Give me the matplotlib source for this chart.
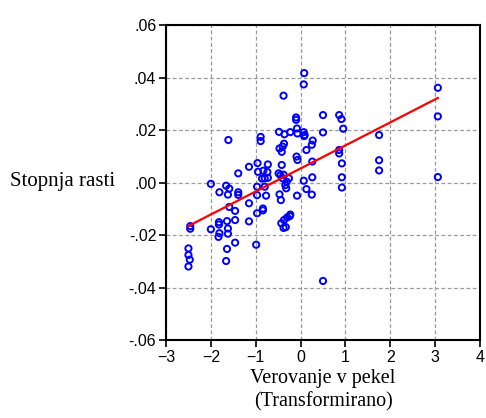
import numpy as np
import matplotlib
matplotlib.use("Agg")
import matplotlib.pyplot as plt

# Belief in hell (transformed) vs growth rate
verovanje = [
    0.08, 0.07, -0.38, 0.50, 0.86, 0.91, -0.10, -0.10, 0.95, 0.50,
    -0.48, -0.36, -0.23, -0.08, -0.07, 0.07, 0.09, 0.08, -0.89, -0.89,
    -1.61, 0.27, 0.25, 0.13, -0.37, -0.40, -0.47, -0.42, 0.86, 0.86,
    1.75, 3.06, 3.06, -0.09, -0.07,
    0.26, 0.92, 1.75, 1.75, 3.06, 0.92, 0.26, 0.07, -0.96, -0.73,
    -0.42, -1.15, -1.39, -0.83, -0.74, -0.95, -0.49, -0.45, -0.38, -0.26,
    -0.40, -0.80, -0.73, -0.86, 0.92,
    -2.00, -1.66, -1.59, -1.81, -1.62, -1.39, -1.39, -0.97, -0.80, -0.97,
    -0.77, -0.31, -0.34, -0.32, -0.47, -0.44, -0.08, 0.13, 0.25, -1.15,
    -1.59, -0.84,
    -1.46, -0.97, -0.84, -0.23, -1.82, -1.82, -1.64, -1.46, -1.15, -1.81,
    -1.83, -1.62, -1.62, -1.46, -1.64, -1.66, -0.99, -2.00, -2.46, -2.46,
    -2.50, -2.50, -2.47, -2.50, -0.43, -0.37, -0.30, -0.24, -0.33, -0.38,
    0.50,
]
stopnja = [
    0.0417, 0.0374, 0.0331, 0.0257, 0.0257, 0.0242, 0.0248, 0.0239, 0.0205, 0.0191,
    0.0193, 0.0184, 0.0192, 0.0206, 0.0187, 0.0192, 0.0181, 0.0177, 0.0174, 0.0158,
    0.0162, 0.0160, 0.0144, 0.0124, 0.0148, 0.0137, 0.0130, 0.0117, 0.0124, 0.0111,
    0.0181, 0.0361, 0.0252, 0.0099, 0.0086,
    0.0080, 0.0073, 0.0085, 0.0046, 0.0021, 0.0020, 0.0020, 0.0007, 0.0074, 0.0069,
    0.0067, 0.0060, 0.0035, 0.0045, 0.0040, 0.0041, 0.0035, 0.0028, 0.0030, 0.0016,
    0.0016, 0.0016, 0.0018, 0.0015, -0.0019,
    -0.0005, -0.0012, -0.0023, -0.0037, -0.0046, -0.0037, -0.0047, -0.0016, -0.0016, -0.0048,
    -0.0050, 0.0003, -0.0010, -0.0022, -0.0045, -0.0067, -0.0050, -0.0025, -0.0046, -0.0079,
    -0.0093, -0.0099,
    -0.0108, -0.0117, -0.0106, -0.0122, -0.0151, -0.0160, -0.0147, -0.0143, -0.0148, -0.0193,
    -0.0207, -0.0175, -0.0195, -0.0229, -0.0253, -0.0299, -0.0237, -0.0178, -0.0166, -0.0176,
    -0.0251, -0.0276, -0.0294, -0.0320, -0.0155, -0.0143, -0.0133, -0.0128, -0.0170, -0.0173,
    -0.0375,
]

x = np.array(verovanje)
y = np.array(stopnja)

fig = plt.figure(figsize=(4.86, 4.18), dpi=100)
ax = fig.add_axes([0.3416, 0.1866, 0.6461, 0.7534])

ax.scatter(x, y, s=20, facecolors="none", edgecolors="#0000FF", linewidths=1.4, zorder=3)

# least squares fit line
b, a = np.polyfit(x, y, 1)
xl = np.array([x.min(), x.max()])
ax.plot(xl, a + b * xl, color="#FF0000", linewidth=1.6, zorder=4)

ax.set_xlim(-3, 4)
ax.set_ylim(-0.06, 0.06)
ax.set_xticks(range(-3, 5))
yt = [-0.06, -0.04, -0.02, 0.0, 0.02, 0.04, 0.06]
ax.set_yticks(yt)
ax.set_yticklabels([f"{v:.2f}".replace("0.", ".") for v in yt])

ax.grid(True, color="#999999", linestyle=(0, (3, 2)), linewidth=0.9)
for s in ax.spines.values():
    s.set_linewidth(1.5)
ax.tick_params(direction="out", length=5, width=1.2, labelsize=11.5, pad=2)
for lab in ax.get_xticklabels() + ax.get_yticklabels():
    lab.set_family("Liberation Sans")

ax.set_xlabel("Verovanje v pekel\n(Transformirano)", family="Liberation Serif",
              fontsize=14.5, linespacing=1.3, labelpad=3)
fig.text(0.02, 0.565, "Stopnja rasti", family="Liberation Serif", fontsize=15,
         va="center", ha="left")

plt.savefig("out.png", dpi=100)
